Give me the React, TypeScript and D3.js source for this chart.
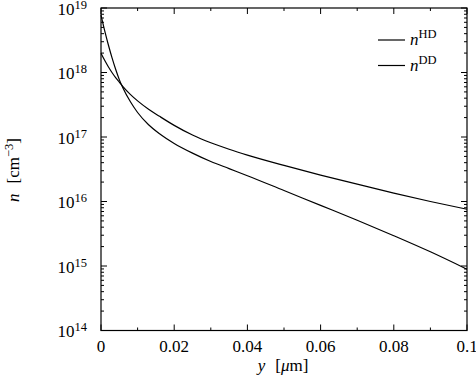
import React from "react";
import * as d3 from "d3";

// position y [µm]
const xs = [0, 0.001, 0.002, 0.003, 0.004, 0.005, 0.006, 0.008, 0.01, 0.013, 0.016, 0.02, 0.025, 0.03, 0.035, 0.04, 0.05, 0.06, 0.07, 0.08, 0.09, 0.1];
// log10 of n [cm^-3]
const logHD = [18.89, 18.65, 18.43, 18.23, 18.05, 17.89, 17.76, 17.55, 17.38, 17.19, 17.05, 16.9, 16.75, 16.62, 16.51, 16.4, 16.17, 15.94, 15.71, 15.47, 15.22, 14.95];
const logDD = [18.3, 18.19, 18.09, 18.0, 17.92, 17.85, 17.78, 17.66, 17.56, 17.43, 17.32, 17.18, 17.03, 16.91, 16.81, 16.72, 16.56, 16.41, 16.27, 16.13, 16.0, 15.88];
const xTicks = [0, 0.02, 0.04, 0.06, 0.08, 0.1];
const xTickLabels = ["0", "0.02", "0.04", "0.06", "0.08", "0.1"];
const xMinor = [0.01, 0.03, 0.05, 0.07, 0.09];
const yExps = [14, 15, 16, 17, 18, 19];
const legendLabels = ["HD", "DD"];

const W = 476, H = 381;
const L = 101, R = 467, T = 8, B = 330.5;
const font = "'Liberation Serif', 'DejaVu Serif', serif";

export default function App() {
  const x = d3.scaleLinear().domain([0, 0.1]).range([L, R]);
  const y = d3.scaleLog().domain([1e14, 1e19]).range([B, T]);
  const line = d3
    .line<number>()
    .x((_, i) => x(xs[i]))
    .y((d) => y(Math.pow(10, d)))
    .curve(d3.curveMonotoneX);

  const minorY: number[] = [];
  for (let e = 14; e < 19; e++) for (let k = 2; k <= 9; k++) minorY.push(k * Math.pow(10, e));

  return (
    <svg width={W} height={H} style={{ position: "absolute", left: 0, top: 0, background: "#fff" }}>
      <rect x={0} y={0} width={W} height={H} fill="#fff" />
      <path d={line(logHD) || ""} fill="none" stroke="#000" strokeWidth={1.2} />
      <path d={line(logDD) || ""} fill="none" stroke="#000" strokeWidth={1.2} />
      <g stroke="#000" strokeWidth={1}>
        {xTicks.map((t) => (
          <g key={"xt" + t}>
            <line x1={x(t)} x2={x(t)} y1={B} y2={B - 6} />
            <line x1={x(t)} x2={x(t)} y1={T} y2={T + 6} />
          </g>
        ))}
        {xMinor.map((t) => (
          <g key={"xm" + t}>
            <line x1={x(t)} x2={x(t)} y1={B} y2={B - 3} />
            <line x1={x(t)} x2={x(t)} y1={T} y2={T + 3} />
          </g>
        ))}
        {yExps.map((e) => (
          <g key={"yt" + e}>
            <line x1={L} x2={L + 6} y1={y(Math.pow(10, e))} y2={y(Math.pow(10, e))} />
            <line x1={R} x2={R - 6} y1={y(Math.pow(10, e))} y2={y(Math.pow(10, e))} />
          </g>
        ))}
        {minorY.map((v, i) => (
          <g key={"ym" + i}>
            <line x1={L} x2={L + 3} y1={y(v)} y2={y(v)} />
            <line x1={R} x2={R - 3} y1={y(v)} y2={y(v)} />
          </g>
        ))}
      </g>
      <rect x={L} y={T} width={R - L} height={B - T} fill="none" stroke="#000" strokeWidth={1.2} />
      {xTicks.map((t, i) => (
        <text key={"xl" + t} x={x(t)} y={351.5} textAnchor="middle" fontFamily={font} fontSize={17}>
          {xTickLabels[i]}
        </text>
      ))}
      {yExps.map((e) => (
        <text key={"yl" + e} x={87} y={y(Math.pow(10, e)) + 6.5} textAnchor="end" fontFamily={font} fontSize={17}>
          10
          <tspan fontSize={12.5} dy={-6}>{e}</tspan>
        </text>
      ))}
      <text x={283} y={371} textAnchor="middle" fontFamily={font} fontSize={17}>
        <tspan fontStyle="italic">y</tspan>
        <tspan dx={10}>[</tspan>
        <tspan fontStyle="italic">μ</tspan>
        <tspan>m]</tspan>
      </text>
      <text transform="translate(19,170) rotate(-90)" textAnchor="middle" fontFamily={font} fontSize={17}>
        <tspan fontStyle="italic">n</tspan>
        <tspan dx={10}>[cm</tspan>
        <tspan fontSize={12.5} dy={-6.5}>−3</tspan>
        <tspan dy={6.5}>]</tspan>
      </text>
      {legendLabels.map((lab, i) => {
        const ly = 40 + i * 25.5;
        return (
          <g key={"lg" + lab}>
            <line x1={378} x2={405} y1={ly} y2={ly} stroke="#000" strokeWidth={1.2} />
            <text x={410} y={ly + 5} fontFamily={font} fontSize={17}>
              <tspan fontStyle="italic">n</tspan>
              <tspan fontSize={12.5} dy={-7}>{lab}</tspan>
            </text>
          </g>
        );
      })}
    </svg>
  );
}
